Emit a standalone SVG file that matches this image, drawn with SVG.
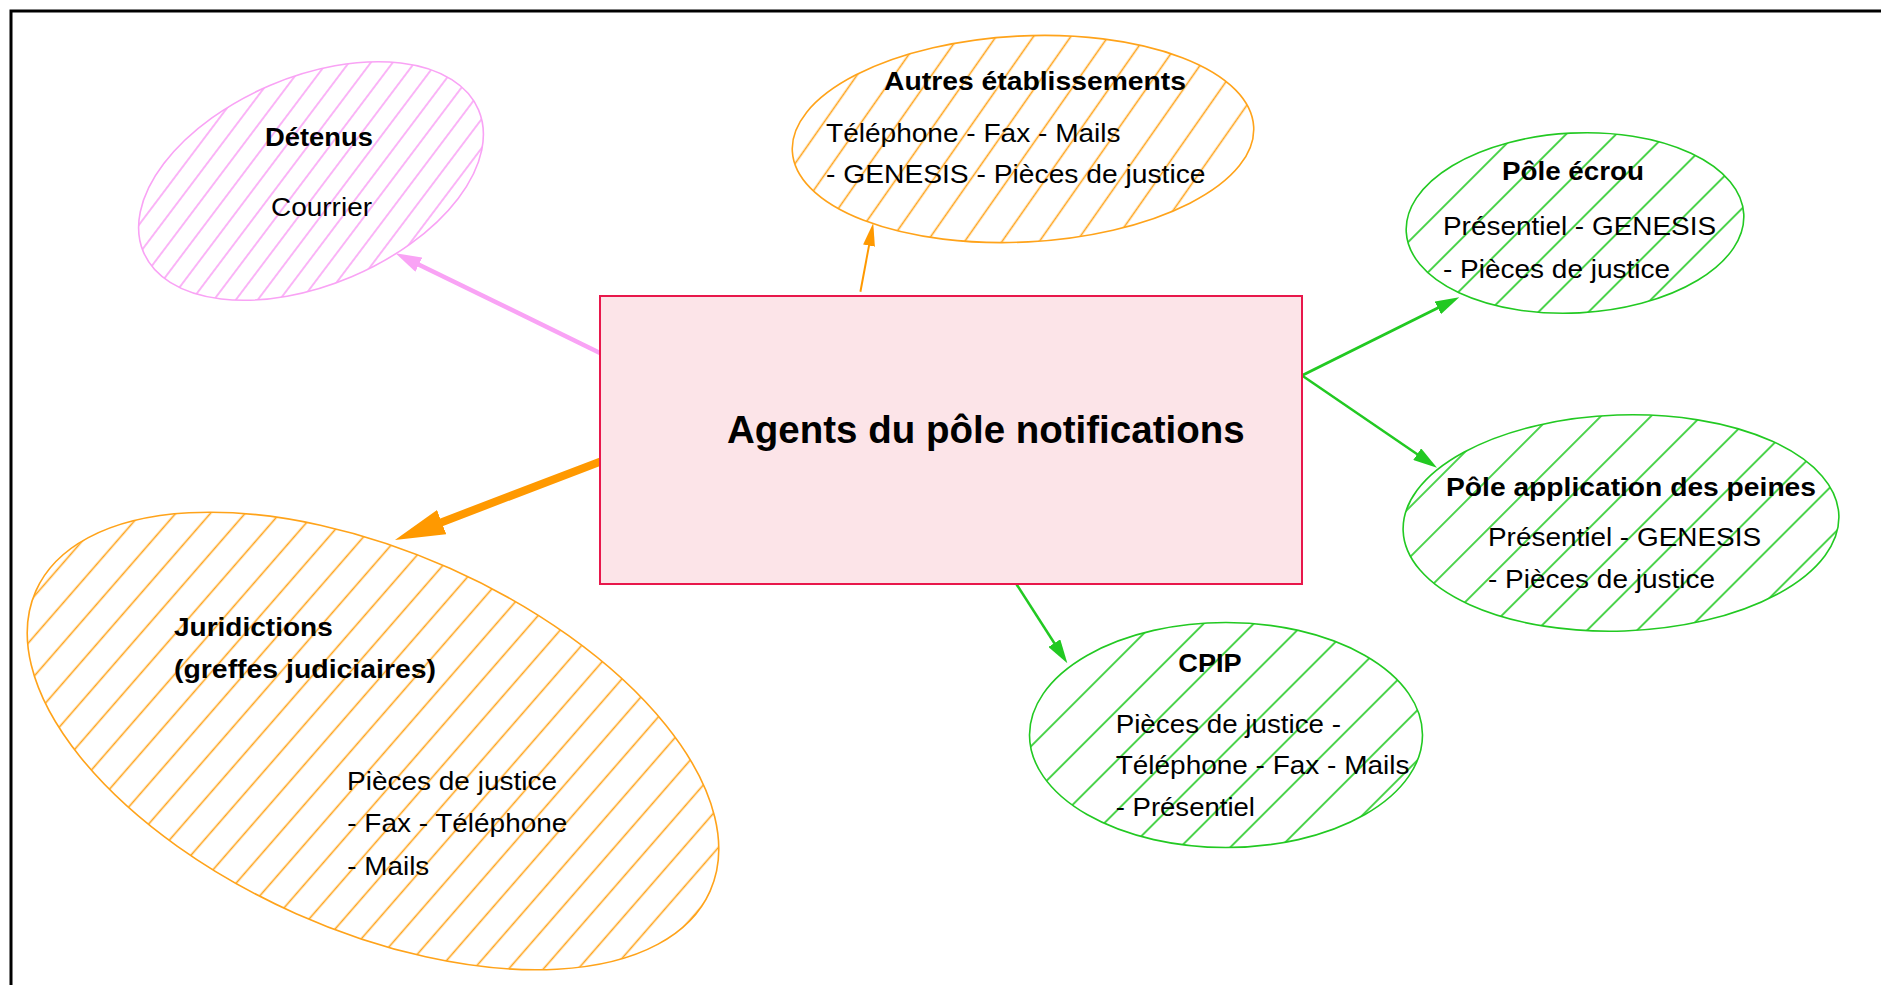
<svg xmlns="http://www.w3.org/2000/svg" width="1881" height="985" viewBox="0 0 1881 985">
<style>
text{font-family:"Liberation Sans",Arial,sans-serif;fill:#000;font-size:25px}
.b{font-weight:bold}
.t{font-size:38.5px;font-weight:bold}
.pk{stroke:#f9a3f5;stroke-width:1.6}
.or{stroke:#ffa31a;stroke-width:1.6}
.gr{stroke:#22c922;stroke-width:1.6}
</style>
<defs>
<pattern id="hP" patternUnits="userSpaceOnUse" width="17.5" height="20" patternTransform="rotate(60)"><line x1="8.75" y1="-1" x2="8.75" y2="21" class="pk"/></pattern>
<pattern id="hOa" patternUnits="userSpaceOnUse" width="30.6" height="20" patternTransform="rotate(38)"><line x1="15.3" y1="-1" x2="15.3" y2="21" class="or"/></pattern>
<pattern id="hOj" patternUnits="userSpaceOnUse" width="26.2" height="20" patternTransform="rotate(17)"><line x1="13.1" y1="-1" x2="13.1" y2="21" class="or"/></pattern>
<pattern id="hGe" patternUnits="userSpaceOnUse" width="35.4" height="20" patternTransform="rotate(48)"><line x1="17.7" y1="-1" x2="17.7" y2="21" class="gr"/></pattern>
<pattern id="hGa" patternUnits="userSpaceOnUse" width="35.4" height="20" patternTransform="rotate(47)"><line x1="17.7" y1="-1" x2="17.7" y2="21" class="gr"/></pattern>
<pattern id="hG" patternUnits="userSpaceOnUse" width="35.4" height="20" patternTransform="rotate(45)"><line x1="17.7" y1="-1" x2="17.7" y2="21" class="gr"/></pattern>
<marker id="mP" markerUnits="userSpaceOnUse" viewBox="0 0 26 16" markerWidth="26" markerHeight="16" refX="1" refY="8" orient="auto"><path d="M0,0 L26,8 L0,16 z" fill="#f9a3f5"/></marker>
<marker id="mOs" markerUnits="userSpaceOnUse" viewBox="0 0 23 12" markerWidth="23" markerHeight="12" refX="1" refY="6" orient="auto"><path d="M0,0 L23,6 L0,12 z" fill="#ff9900"/></marker>
<marker id="mOb" markerUnits="userSpaceOnUse" viewBox="0 0 50 26" markerWidth="50" markerHeight="26" refX="2" refY="13" orient="auto"><path d="M0,0 L50,13 L0,26 z" fill="#ff9900"/></marker>
<marker id="mG" markerUnits="userSpaceOnUse" viewBox="0 0 24 14" markerWidth="24" markerHeight="14" refX="1" refY="7" orient="auto"><path d="M0,0 L24,7 L0,14 z" fill="#22c922"/></marker>
</defs>
<rect x="11" y="11" width="1900" height="1000" fill="#fff" stroke="#000" stroke-width="3"/>

<g id="connectors" fill="none">
<line x1="600" y1="353" x2="418" y2="264.2" stroke="#f9a3f5" stroke-width="4.5" marker-end="url(#mP)"/>
<line x1="860.4" y1="291.7" x2="869.2" y2="244.6" stroke="#ff9900" stroke-width="2" marker-end="url(#mOs)"/>
<line x1="600" y1="461.7" x2="439.8" y2="522.9" stroke="#ff9900" stroke-width="8" stroke-linecap="round" marker-end="url(#mOb)"/>
<line x1="1302" y1="375.5" x2="1438.7" y2="307.5" stroke="#22c922" stroke-width="3" marker-end="url(#mG)"/>
<line x1="1302" y1="375.5" x2="1418" y2="454.7" stroke="#22c922" stroke-width="2.5" marker-end="url(#mG)"/>
<line x1="1016" y1="583.5" x2="1054.9" y2="644" stroke="#22c922" stroke-width="2.5" marker-end="url(#mG)"/>
</g>

<g id="agents">
<rect x="600" y="296" width="702" height="288" fill="#fce4e8" stroke="#e8174b" stroke-width="2"/>
<text class="t" x="727" y="443">Agents du pôle notifications</text>
</g>

<g id="detenus">
<ellipse cx="311" cy="181" rx="182" ry="104" transform="rotate(-23 311 181)" fill="url(#hP)" class="pk"/>
<text class="b" x="265" y="146" textLength="108" lengthAdjust="spacingAndGlyphs">Détenus</text>
<text x="271" y="215.5" textLength="101" lengthAdjust="spacingAndGlyphs">Courrier</text>
</g>

<g id="autres">
<ellipse cx="1023" cy="139" rx="231" ry="103" transform="rotate(-3 1023 139)" fill="url(#hOa)" class="or"/>
<text class="b" x="884" y="89.5" textLength="302" lengthAdjust="spacingAndGlyphs">Autres établissements</text>
<text x="826" y="141.7" textLength="294.6" lengthAdjust="spacingAndGlyphs">Téléphone - Fax - Mails</text>
<text x="826" y="183.3" textLength="379.5" lengthAdjust="spacingAndGlyphs">- GENESIS - Pièces de justice</text>
</g>

<g id="ecrou">
<ellipse cx="1575" cy="223" rx="169" ry="90" transform="rotate(-3 1575 223)" fill="url(#hGe)" class="gr"/>
<text class="b" x="1502" y="180" textLength="142" lengthAdjust="spacingAndGlyphs">Pôle écrou</text>
<text x="1443" y="235" textLength="273" lengthAdjust="spacingAndGlyphs">Présentiel - GENESIS</text>
<text x="1443" y="277.5" textLength="227" lengthAdjust="spacingAndGlyphs">- Pièces de justice</text>
</g>

<g id="application">
<ellipse cx="1621" cy="523" rx="218" ry="108" transform="rotate(-2 1621 523)" fill="url(#hGa)" class="gr"/>
<text class="b" x="1446" y="496" textLength="370" lengthAdjust="spacingAndGlyphs">Pôle application des peines</text>
<text x="1488" y="546" textLength="273" lengthAdjust="spacingAndGlyphs">Présentiel - GENESIS</text>
<text x="1488" y="588" textLength="227" lengthAdjust="spacingAndGlyphs">- Pièces de justice</text>
</g>

<g id="cpip">
<ellipse cx="1226" cy="735" rx="196.5" ry="112.5" fill="url(#hG)" class="gr"/>
<text class="b" x="1178.3" y="672.3" textLength="63.3" lengthAdjust="spacingAndGlyphs">CPIP</text>
<text x="1115.7" y="732.7" textLength="225.3" lengthAdjust="spacingAndGlyphs">Pièces de justice -</text>
<text x="1115.7" y="774.3" textLength="293.7" lengthAdjust="spacingAndGlyphs">Téléphone - Fax - Mails</text>
<text x="1115.7" y="815.7" textLength="139.3" lengthAdjust="spacingAndGlyphs">- Présentiel</text>
</g>

<g id="juridictions">
<ellipse cx="373" cy="741" rx="369" ry="189" transform="rotate(24 373 741)" fill="url(#hOj)" class="or"/>
<text class="b" x="174" y="635.7" textLength="158.7" lengthAdjust="spacingAndGlyphs">Juridictions</text>
<text class="b" x="174" y="678.3" textLength="262" lengthAdjust="spacingAndGlyphs">(greffes judiciaires)</text>
<text x="347" y="790" textLength="210" lengthAdjust="spacingAndGlyphs">Pièces de justice</text>
<text x="347.3" y="831.7" textLength="220" lengthAdjust="spacingAndGlyphs">- Fax - Téléphone</text>
<text x="347.3" y="875" textLength="82" lengthAdjust="spacingAndGlyphs">- Mails</text>
</g>
</svg>
